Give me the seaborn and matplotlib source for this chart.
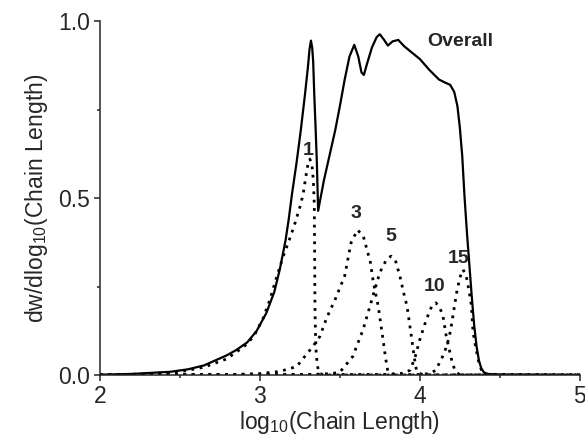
import numpy as np
import pandas as pd
import matplotlib
matplotlib.use("Agg")
import matplotlib.pyplot as plt
import seaborn as sns

# Overall distribution (solid)
overall_x = [2.0, 2.2, 2.44, 2.55, 2.65, 2.79, 2.85, 2.92, 2.98, 3.04, 3.09, 3.125, 3.16, 3.18,
             3.20, 3.229, 3.255, 3.281, 3.30, 3.31, 3.319, 3.327, 3.333, 3.34, 3.348, 3.356,
             3.364, 3.40, 3.44, 3.47, 3.50, 3.53, 3.56, 3.59, 3.615, 3.635, 3.65, 3.67, 3.70,
             3.73, 3.75, 3.775, 3.80, 3.83, 3.865, 3.90, 3.94, 4.0, 4.06, 4.12, 4.16, 4.19,
             4.215, 4.235, 4.25, 4.265, 4.28, 4.295, 4.31, 4.325, 4.34, 4.355, 4.37, 4.385,
             4.40, 4.42, 4.5, 5.0]
overall_y = [0.001, 0.003, 0.009, 0.016, 0.027, 0.055, 0.07, 0.092, 0.125, 0.175, 0.235, 0.30,
             0.38, 0.44, 0.51, 0.60, 0.69, 0.79, 0.87, 0.92, 0.945, 0.925, 0.885, 0.79, 0.70,
             0.60, 0.464, 0.55, 0.63, 0.69, 0.76, 0.835, 0.90, 0.933, 0.90, 0.855, 0.848,
             0.88, 0.925, 0.955, 0.963, 0.948, 0.931, 0.943, 0.947, 0.93, 0.915, 0.893, 0.862,
             0.835, 0.826, 0.82, 0.80, 0.76, 0.70, 0.62, 0.50, 0.40, 0.31, 0.22, 0.14, 0.08,
             0.04, 0.018, 0.008, 0.003, 0.001, 0.0]

# Individual site distributions (dotted)
c1_x = [2.0, 2.3, 2.5, 2.65, 2.79, 2.9, 2.96, 3.02, 3.06, 3.10, 3.146, 3.19, 3.22, 3.25, 3.27,
        3.285, 3.30, 3.3125, 3.325, 3.334, 3.34, 3.342, 3.344, 3.347, 3.352, 3.36, 3.37, 3.40, 5.0]
c1_y = [0.0, 0.003, 0.009, 0.022, 0.045, 0.08, 0.108, 0.16, 0.21, 0.27, 0.336, 0.39, 0.43, 0.475,
        0.51, 0.555, 0.595, 0.61, 0.595, 0.55, 0.48, 0.35, 0.20, 0.12, 0.06, 0.025, 0.005, 0.0, 0.0]

c3_x = [2.0, 2.8, 3.0, 3.125, 3.23, 3.33, 3.375, 3.417, 3.47, 3.53, 3.57, 3.61, 3.646, 3.69,
        3.71, 3.74, 3.77, 3.785, 3.80, 3.85, 5.0]
c3_y = [0.0, 0.001, 0.004, 0.01, 0.024, 0.08, 0.109, 0.161, 0.213, 0.28, 0.374, 0.41, 0.393,
        0.32, 0.26, 0.194, 0.10, 0.05, 0.01, 0.0, 0.0]

c5_x = [2.0, 3.3, 3.45, 3.5, 3.58, 3.645, 3.70, 3.75, 3.79, 3.82, 3.85, 3.875, 3.90, 3.92,
        3.95, 3.965, 3.98, 4.02, 5.0]
c5_y = [0.0, 0.001, 0.004, 0.008, 0.052, 0.128, 0.213, 0.29, 0.325, 0.336, 0.32, 0.28, 0.23,
        0.194, 0.10, 0.05, 0.01, 0.0, 0.0]

c10_x = [2.0, 3.8, 3.90, 3.94, 3.97, 4.0, 4.04, 4.075, 4.10, 4.125, 4.145, 4.165, 4.18, 4.20,
         4.22, 4.25, 5.0]
c10_y = [0.0, 0.001, 0.005, 0.014, 0.05, 0.10, 0.156, 0.195, 0.204, 0.19, 0.166, 0.11, 0.08,
         0.04, 0.012, 0.0, 0.0]

c15_x = [2.0, 4.0, 4.07, 4.10, 4.14, 4.167, 4.185, 4.20, 4.215, 4.23, 4.25, 4.27, 4.29, 4.31,
         4.323, 4.33, 4.34, 4.365, 4.385, 4.42, 5.0]
c15_y = [0.0, 0.001, 0.005, 0.014, 0.05, 0.08, 0.11, 0.147, 0.19, 0.232, 0.275, 0.298, 0.28,
         0.232, 0.194, 0.137, 0.10, 0.043, 0.014, 0.002, 0.0]

site_names = ["1", "3", "5", "10", "15"]
site_x = [c1_x, c3_x, c5_x, c10_x, c15_x]
site_y = [c1_y, c3_y, c5_y, c10_y, c15_y]
label_x = [3.30, 3.60, 3.82, 4.09, 4.245]
label_y = [0.635, 0.455, 0.39, 0.25, 0.33]

sns.set_style("ticks")
plt.rcParams["font.family"] = ["Liberation Sans", "DejaVu Sans"]
plt.rcParams["mathtext.fontset"] = "custom"
plt.rcParams["mathtext.rm"] = "Liberation Sans"
plt.rcParams["mathtext.default"] = "regular"

fig = plt.figure(figsize=(5.85, 4.41), dpi=100)
ax = fig.add_axes([0.171, 0.1497, 0.82, 0.8023])

sns.lineplot(x=overall_x, y=overall_y, ax=ax, color="black", linewidth=1.6,
             sort=False, estimator=None, solid_joinstyle="round")
for xs, ys in zip(site_x, site_y):
    sns.lineplot(x=xs, y=ys, ax=ax, color="black", linewidth=2.0,
                 linestyle=(0, (1, 2.0)), sort=False, estimator=None)

ax.text(4.25, 0.942, "Overall", fontsize=14, fontweight="bold", ha="center", va="center")
for name, lx, ly in zip(site_names, label_x, label_y):
    ax.text(lx, ly, name, fontsize=14, fontweight="bold", ha="center", va="center")

ax.set_xlim(2, 5)
ax.set_ylim(0, 1.0)
ax.set_xticks([2, 3, 4, 5])
ax.set_xticks([2.5, 3.5, 4.5], minor=True)
ax.set_yticks([0.0, 0.5, 1.0])
ax.set_yticks([0.25, 0.75], minor=True)
ax.set_yticklabels(["0.0", "0.5", "1.0"])
ax.tick_params(which="major", direction="out", length=4, width=1.1, labelsize=16.5, pad=3)
ax.tick_params(which="minor", direction="out", length=2.4, width=1.1)
for side in ["left", "bottom"]:
    ax.spines[side].set_linewidth(1.1)
sns.despine(ax=ax)

ax.set_xlabel("log$_{10}$(Chain Length)", fontsize=16.5, labelpad=1)
ax.set_ylabel("dw/dlog$_{10}$(Chain Length)", fontsize=16.5, labelpad=6)

fig.savefig("out.png", dpi=100)
